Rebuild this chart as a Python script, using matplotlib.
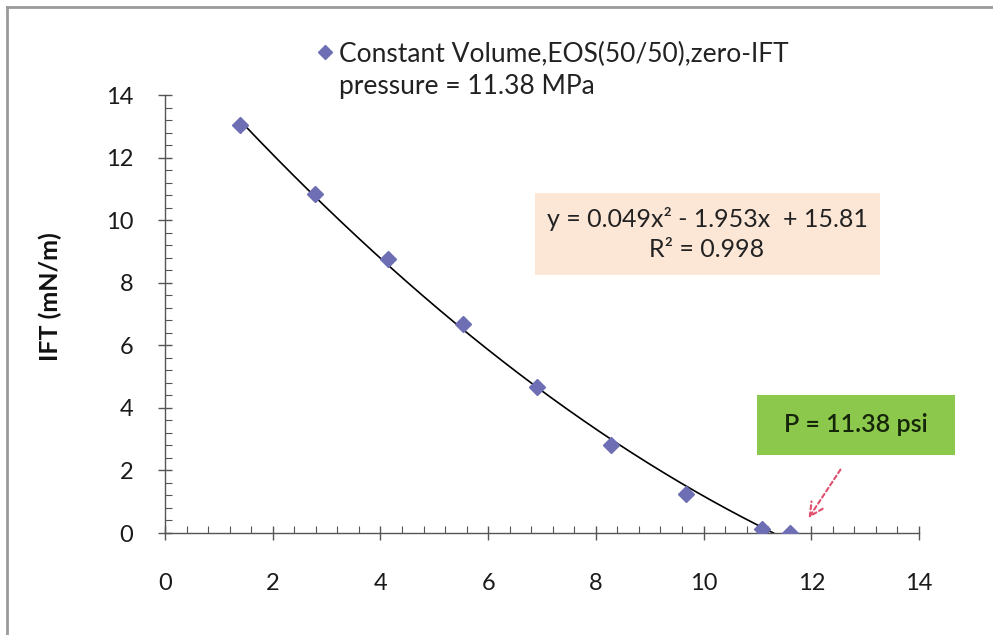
import matplotlib
matplotlib.use("Agg")
import matplotlib.pyplot as plt
import numpy as np
from matplotlib.lines import Line2D
from matplotlib.patches import Rectangle
from matplotlib.ticker import AutoMinorLocator

plt.rcParams['font.family'] = ['Lato', 'DejaVu Sans']

# Data
pressure = [1.39, 2.78, 4.14, 5.53, 6.90, 8.28, 9.68, 11.08, 11.60]
ift = [13.03, 10.85, 8.75, 6.68, 4.68, 2.80, 1.25, 0.14, 0.00]
series_label = "Constant Volume,EOS(50/50),zero-IFT\npressure = 11.38 MPa"

# Trendline coefficients as displayed
coef = [0.049, -1.953, 15.81]
trend_range = [1.39, 11.30]
eq_text = "y = 0.049x\u00b2 - 1.953x  + 15.81\nR\u00b2 = 0.998"
p_text = "P = 11.38 psi"

x_ticks = [0, 2, 4, 6, 8, 10, 12, 14]
y_ticks = [0, 2, 4, 6, 8, 10, 12, 14]

W, H = 993, 635
marker_color = '#6e6eb4'
fig = plt.figure(figsize=(W/100, H/100), dpi=100)
ax = fig.add_axes([165/W, 1-533/H, (919-165)/W, (533-95)/H])

# outer chart border (top and left visible)
fig.add_artist(Line2D([7/W, 1], [1-7/H, 1-7/H], color='#9a9a9a', lw=2.0))
fig.add_artist(Line2D([7/W, 7/W], [0, 1-7/H], color='#9a9a9a', lw=2.0))

xt = np.linspace(trend_range[0], trend_range[1], 200)
ax.plot(xt, np.polyval(coef, xt), color='black', lw=1.2, zorder=2)
ax.plot(pressure, ift, linestyle='none', marker='D', ms=8, color=marker_color,
        markeredgecolor=marker_color, label=series_label, zorder=3)

ax.set_xlim(0, 14)
ax.set_ylim(0, 14)
ax.set_xticks(x_ticks)
ax.set_yticks(y_ticks)
ax.xaxis.set_minor_locator(AutoMinorLocator(5))
ax.yaxis.set_minor_locator(AutoMinorLocator(5))
for s in ['top', 'right']:
    ax.spines[s].set_visible(False)
for s in ['left', 'bottom']:
    ax.spines[s].set_color('#555555')
    ax.spines[s].set_linewidth(1.0)
ax.tick_params(which='major', direction='inout', length=10, width=1.0, color='#555555',
               labelsize=17, labelcolor='#1a1a1a')
ax.tick_params(which='minor', direction='in', length=5, width=0.8, color='#555555')
ax.tick_params(axis='x', which='major', pad=24)
ax.tick_params(axis='y', which='major', pad=18)

ax.set_ylabel("IFT (mN/m)", fontsize=18, fontweight='bold', color='#111111')
ax.yaxis.set_label_coords(-0.137, 0.54)

# legend (marker aligned with the first line of the label, as in the original)
fig.add_artist(Line2D([325/W], [1-52/H], marker='D', ms=7, linestyle='none',
                      color=marker_color, markeredgecolor=marker_color))
fig.text(339/W, 1-70/H, series_label, ha='left', va='center', fontsize=19,
         color='#222222', linespacing=1.35)

# trendline equation box
fig.add_artist(Rectangle((535/W, 1-275/H), 345/W, 82/H, transform=fig.transFigure,
                         facecolor='#fce6d6', edgecolor='none', zorder=1))
fig.text(707/W, 1-234/H, eq_text, ha='center', va='center', fontsize=18,
         color='#222222', linespacing=1.35, zorder=2)

# zero-IFT pressure box
fig.add_artist(Rectangle((757/W, 1-455/H), 198/W, 60/H, transform=fig.transFigure,
                         facecolor='#8cc84b', edgecolor='none', zorder=1))
fig.text(856/W, 1-425/H, p_text, ha='center', va='center', fontsize=18,
         color='#15250a', fontweight='semibold', zorder=2)

ax.annotate('', xy=(11.92, 0.40), xytext=(12.57, 2.10),
            arrowprops=dict(arrowstyle='->', color='#e0506e', lw=1.5, linestyle=(0, (2, 1.5)),
                            mutation_scale=24))

fig.savefig('out.png', dpi=100)
